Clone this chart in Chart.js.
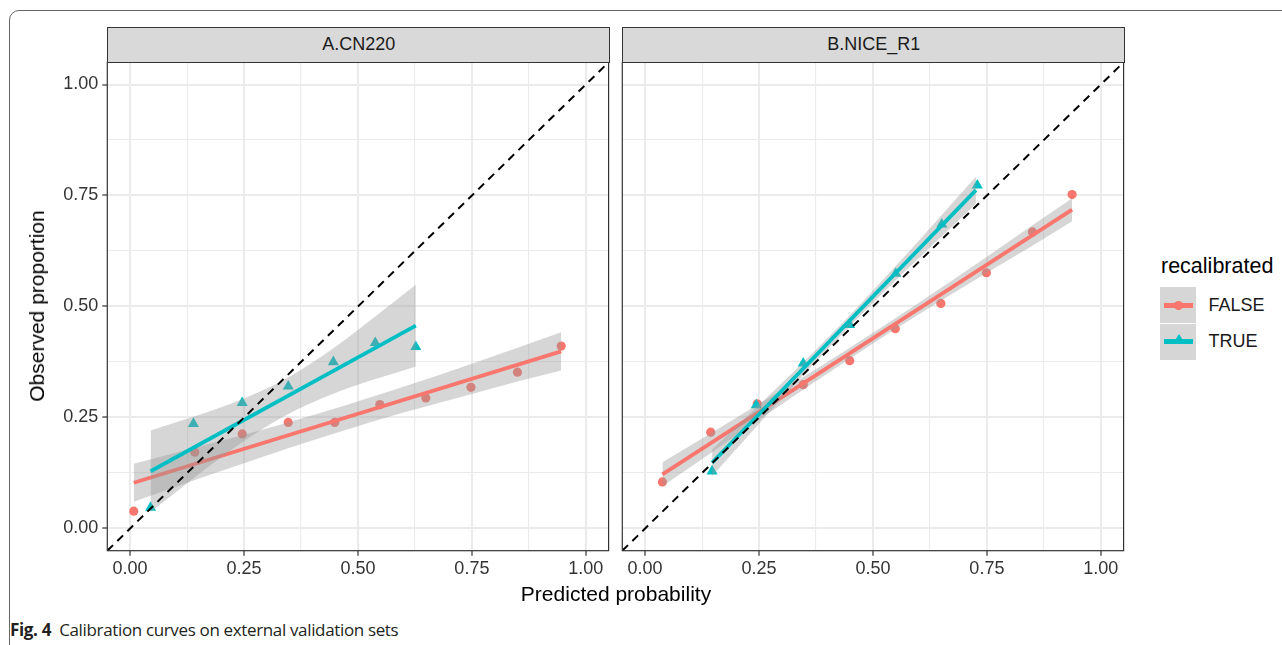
<!DOCTYPE html>
<html><head><meta charset="utf-8">
<script src="https://cdn.jsdelivr.net/npm/chart.js@4.4.1/dist/chart.umd.min.js"></script>
<style>
html,body{margin:0;padding:0;background:#fff;width:1282px;height:645px;overflow:hidden;position:relative;font-family:"Liberation Sans",Arial,sans-serif;}
canvas{position:absolute;}
.frame{position:absolute;left:9px;top:10px;width:1400px;height:800px;border:1.3px solid #666;border-radius:10px;box-sizing:border-box;}
.strip{position:absolute;box-sizing:border-box;background:#d9d9d9;border:1.2px solid #333;color:#1a1a1a;font-size:18px;display:flex;align-items:center;justify-content:center;}
.txt{position:absolute;white-space:nowrap;color:#000;}
.key{position:absolute;background:#d6d6d6;}
.kline{position:absolute;height:5px;}
</style>
</head><body>
<div class="frame"></div>
<canvas id="cA" width="615" height="590" style="left:0;top:0"></canvas>
<canvas id="cB" width="530" height="590" style="left:600px;top:0"></canvas>
<div class="strip" style="left:107.3px;top:26.7px;width:503px;height:36px;">A.CN220</div>
<div class="strip" style="left:622.3px;top:26.7px;width:503px;height:36px;">B.NICE_R1</div>
<div class="txt" style="left:616px;top:594px;font-size:21px;transform:translate(-50%,-50%);">Predicted probability</div>
<div class="txt" style="left:37px;top:306px;font-size:21px;transform:translate(-50%,-50%) rotate(-90deg);">Observed proportion</div>
<div class="txt" style="left:1161px;top:266px;font-size:21.5px;transform:translateY(-50%);">recalibrated</div>
<div class="key" style="left:1160px;top:287.3px;width:36px;height:35.5px;"></div>
<div class="key" style="left:1160px;top:324px;width:36px;height:35.5px;"></div>
<div class="kline" style="left:1164px;top:302.5px;width:29px;background:#F8766D;"></div>
<div style="position:absolute;left:1174px;top:300.5px;width:9px;height:9px;border-radius:50%;background:#F8766D;"></div>
<div class="kline" style="left:1164px;top:338.5px;width:29px;background:#00BFC4;"></div>
<div style="position:absolute;left:1173.5px;top:334px;width:0;height:0;border-left:5px solid transparent;border-right:5px solid transparent;border-bottom:8.5px solid #00BFC4;"></div>
<div class="txt" style="left:1208.5px;top:305px;font-size:18px;color:#1a1a1a;transform:translateY(-50%);">FALSE</div>
<div class="txt" style="left:1208.5px;top:341px;font-size:18px;color:#1a1a1a;transform:translateY(-50%);">TRUE</div>
<div class="txt" style="left:10px;top:629px;font-size:17px;letter-spacing:-0.35px;font-family:'Open Sans',sans-serif;color:#231f20;transform:translateY(-50%);"><b>Fig. 4</b>&nbsp;&nbsp;Calibration curves on external validation sets</div>
<script>
// ---- tick / grid data ----
const majorTicks = [0, 0.25, 0.5, 0.75, 1];
const majorLabels = ['0.00', '0.25', '0.50', '0.75', '1.00'];
const minorTicks = [0.125, 0.375, 0.625, 0.875];
const axisMin = -0.05, axisMax = 1.05;
const diagX = [-0.05, 1.05];
const diagY = [-0.05, 1.05];

// ---- Panel A: CN220 ----
const aFalseX = [0.008, 0.142, 0.246, 0.347, 0.449, 0.548, 0.649, 0.748, 0.850, 0.946];
const aFalseY = [0.039, 0.172, 0.213, 0.239, 0.239, 0.279, 0.294, 0.318, 0.352, 0.411];
const aTrueX = [0.045, 0.139, 0.246, 0.347, 0.446, 0.538, 0.627];
const aTrueY = [0.047, 0.236, 0.283, 0.320, 0.375, 0.418, 0.409];
const aFalseFitX = [0.008, 0.946];
const aFalseFitY = [0.103, 0.399];
const aTrueFitX = [0.045, 0.627];
const aTrueFitY = [0.129, 0.457];
const aFalseBandX = [0.008, 0.15, 0.25, 0.35, 0.48, 0.60, 0.75, 0.85, 0.946];
const aFalseBandHi = [0.146, 0.184, 0.211, 0.240, 0.280, 0.319, 0.371, 0.407, 0.442];
const aFalseBandLo = [0.060, 0.112, 0.147, 0.182, 0.224, 0.261, 0.303, 0.331, 0.356];
const aTrueBandX = [0.045, 0.14, 0.25, 0.34, 0.45, 0.54, 0.627];
const aTrueBandHi = [0.221, 0.252, 0.293, 0.336, 0.409, 0.479, 0.549];
const aTrueBandLo = [0.037, 0.114, 0.197, 0.254, 0.305, 0.337, 0.365];

// ---- Panel B: NICE_R1 ----
const bFalseX = [0.038, 0.144, 0.246, 0.347, 0.449, 0.549, 0.649, 0.749, 0.850, 0.937];
const bFalseY = [0.105, 0.217, 0.281, 0.324, 0.378, 0.450, 0.507, 0.576, 0.668, 0.752];
const bTrueX = [0.147, 0.244, 0.347, 0.449, 0.550, 0.651, 0.729];
const bTrueY = [0.129, 0.278, 0.372, 0.459, 0.574, 0.685, 0.773];
const bFalseFitX = [0.038, 0.937];
const bFalseFitY = [0.122, 0.718];
const bTrueFitX = [0.147, 0.726];
const bTrueFitY = [0.148, 0.762];
const bFalseBandX = [0.038, 0.15, 0.25, 0.35, 0.49, 0.60, 0.75, 0.85, 0.937];
const bFalseBandHi = [0.149, 0.218, 0.281, 0.343, 0.434, 0.508, 0.612, 0.683, 0.744];
const bFalseBandLo = [0.095, 0.174, 0.245, 0.315, 0.410, 0.482, 0.576, 0.637, 0.692];
const bTrueBandX = [0.147, 0.25, 0.35, 0.436, 0.55, 0.65, 0.726];
const bTrueBandHi = [0.178, 0.278, 0.377, 0.466, 0.591, 0.705, 0.792];
const bTrueBandLo = [0.118, 0.236, 0.349, 0.442, 0.559, 0.657, 0.732];

const RED = '#F8766D', TEAL = '#00BFC4', BAND = 'rgba(153,153,153,0.4)';
Chart.defaults.font.family = '"Liberation Sans", Arial, sans-serif';

function pts(xs, ys) { return xs.map((x, i) => ({ x: x, y: ys[i] })); }
const allTicks = majorTicks.concat(minorTicks).sort((a, b) => a - b);
function isMajor(v) { return majorTicks.indexOf(v) >= 0; }

const panelBorder = {
  id: 'panelBorder',
  afterDatasetsDraw(chart) {
    const a = chart.chartArea, c = chart.ctx;
    c.save(); c.strokeStyle = '#333'; c.lineWidth = 1.2;
    c.strokeRect(a.left, a.top, a.right - a.left, a.bottom - a.top);
    c.restore();
  }
};

function bandSets(xs, hi, lo, order) {
  return [
    { data: pts(xs, hi), showLine: true, borderWidth: 0, borderColor: 'rgba(0,0,0,0)', pointRadius: 0,
      fill: '+1', backgroundColor: BAND, cubicInterpolationMode: 'monotone', order: order },
    { data: pts(xs, lo), showLine: true, borderWidth: 0, borderColor: 'rgba(0,0,0,0)', pointRadius: 0,
      fill: false, cubicInterpolationMode: 'monotone', order: order }
  ];
}

function makePanel(id, p, showY, yWidth) {
  const datasets = [
    { data: pts(p.fx, p.fy), showLine: false, pointStyle: 'circle', pointRadius: 4.6,
      backgroundColor: RED, pointBackgroundColor: RED, pointBorderWidth: 0, order: 20 },
    { data: pts(p.tx, p.ty), showLine: false, pointStyle: 'triangle', pointRadius: 6.4,
      backgroundColor: TEAL, pointBackgroundColor: TEAL, pointBorderWidth: 0, order: 19 },
  ].concat(bandSets(p.fbx, p.fbh, p.fbl, 10)).concat([
    { data: pts(p.ffx, p.ffy), showLine: true, borderColor: RED, borderWidth: 3.8, pointRadius: 0, fill: false, order: 9 }
  ]).concat(bandSets(p.tbx, p.tbh, p.tbl, 8)).concat([
    { data: pts(p.tfx, p.tfy), showLine: true, borderColor: TEAL, borderWidth: 3.8, pointRadius: 0, fill: false, order: 7 },
    { data: pts(diagX, diagY), showLine: true, borderColor: '#000', borderWidth: 2, borderDash: [8, 6], pointRadius: 0, fill: false, order: 1 }
  ]);
  const gridOpts = {
    color: '#ebebeb',
    lineWidth: (ctx) => (ctx.tick && isMajor(ctx.tick.value)) ? 2 : 1.1,
    tickColor: (ctx) => (ctx.tick && isMajor(ctx.tick.value)) ? '#333' : 'rgba(0,0,0,0)',
    tickWidth: 1.2,
    tickLength: 5
  };
  return new Chart(document.getElementById(id), {
    type: 'scatter',
    data: { datasets: datasets },
    options: {
      responsive: false, animation: false, events: [],
      layout: { padding: { top: 62.3, left: 0, right: 5, bottom: 0 } },
      plugins: { legend: { display: false }, tooltip: { enabled: false }, filler: { drawTime: 'beforeDatasetDraw' } },
      scales: {
        x: {
          type: 'linear', min: axisMin, max: axisMax,
          afterBuildTicks: (s) => { s.ticks = allTicks.map(v => ({ value: v })); },
          afterFit: (s) => { s.height = 39.3; },
          border: { display: false },
          grid: gridOpts,
          ticks: { autoSkip: false, maxRotation: 0, padding: 3, color: '#333', font: { size: 18 },
            callback: (v) => { const i = majorTicks.indexOf(v); return i >= 0 ? majorLabels[i] : ''; } }
        },
        y: {
          type: 'linear', min: axisMin, max: axisMax,
          afterBuildTicks: (s) => { s.ticks = allTicks.map(v => ({ value: v })); },
          afterFit: (s) => { s.width = yWidth; },
          border: { display: false },
          grid: Object.assign({}, gridOpts, { drawTicks: showY }),
          ticks: { display: showY, autoSkip: false, padding: 4, color: '#333', font: { size: 18 },
            callback: (v) => { const i = majorTicks.indexOf(v); return i >= 0 ? majorLabels[i] : ''; } }
        }
      }
    },
    plugins: [panelBorder]
  });
}

makePanel('cA', { fx: aFalseX, fy: aFalseY, tx: aTrueX, ty: aTrueY,
  ffx: aFalseFitX, ffy: aFalseFitY, tfx: aTrueFitX, tfy: aTrueFitY,
  fbx: aFalseBandX, fbh: aFalseBandHi, fbl: aFalseBandLo,
  tbx: aTrueBandX, tbh: aTrueBandHi, tbl: aTrueBandLo }, true, 107.3);
makePanel('cB', { fx: bFalseX, fy: bFalseY, tx: bTrueX, ty: bTrueY,
  ffx: bFalseFitX, ffy: bFalseFitY, tfx: bTrueFitX, tfy: bTrueFitY,
  fbx: bFalseBandX, fbh: bFalseBandHi, fbl: bFalseBandLo,
  tbx: bTrueBandX, tbh: bTrueBandHi, tbl: bTrueBandLo }, false, 22.3);
</script>
</body></html>
